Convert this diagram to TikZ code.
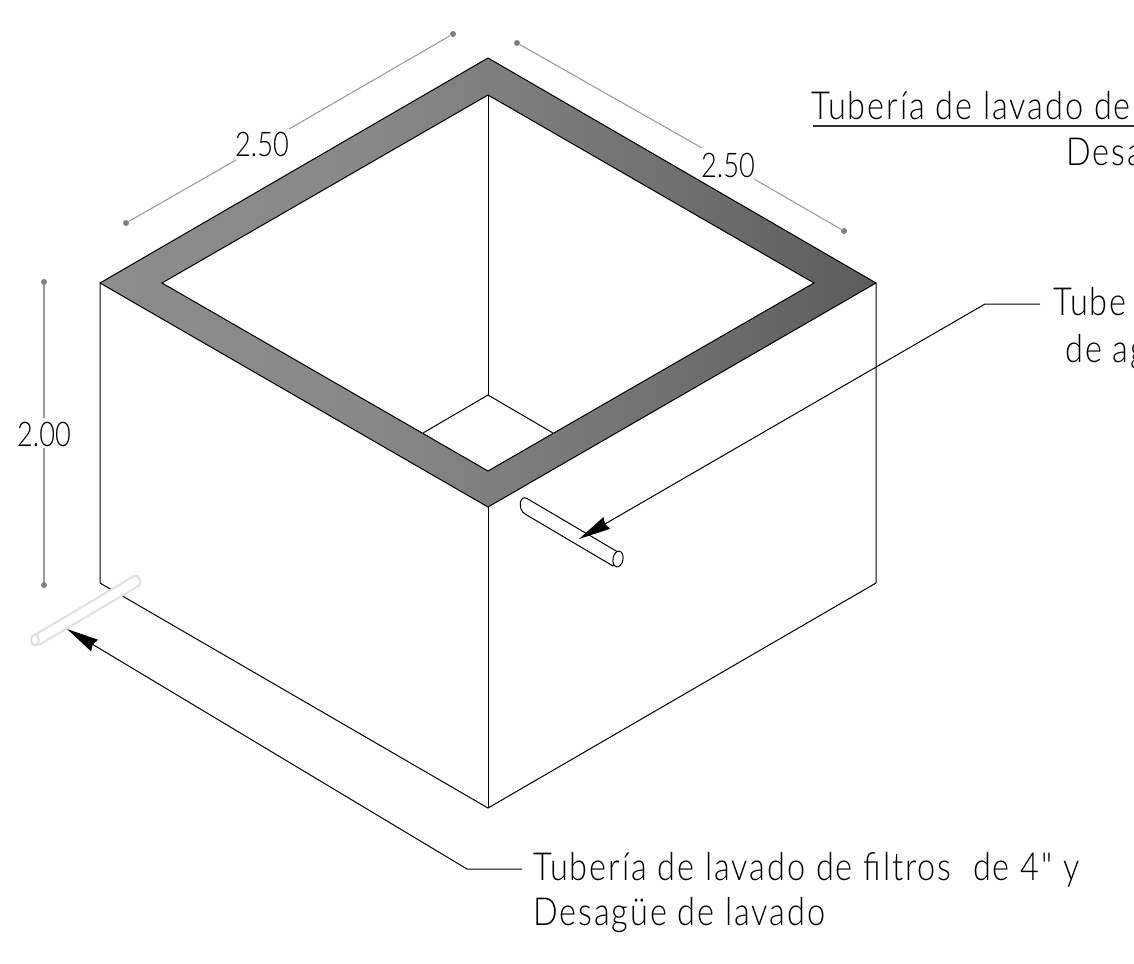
\documentclass[tikz,border=0pt]{standalone}
\usepackage{fontspec}
\setmainfont[FakeStretch=0.8]{Lato Light}
\newfontfamily\notefont[FakeStretch=0.84, LetterSpace=5]{Lato Light}
\usetikzlibrary{
    arrows.meta,
    backgrounds,
    calc,
}

\definecolor{dimgray}{HTML}{9A9A9A}
\definecolor{dotgray}{HTML}{7F7F80}
\definecolor{pipegray}{HTML}{E0E0E0}
\definecolor{ringa}{HTML}{8B8C8E}
\definecolor{ringb}{HTML}{87888A}
\definecolor{ringc}{HTML}{727375}
\definecolor{ringd}{HTML}{5C5C5E}
\pgfdeclarehorizontalshading{ringshade}{100bp}{
    color(0bp)=(ringa); color(25bp)=(ringa); color(42bp)=(ringb);
    color(60bp)=(ringc); color(75bp)=(ringd); color(100bp)=(ringd)}

\tikzset{
    edge/.style = {draw, line width=0.75pt, black},
    dimline/.style = {draw, line width=0.8pt, dimgray},
    dimdot/.style = {circle, fill=dotgray, inner sep=0pt, minimum size=4.5pt},
    note/.style = {anchor=base west, inner sep=0pt, font=\notefont\fontsize{29}{29}\selectfont},
    dimtxt/.style = {inner sep=0pt, font=\fontsize{25.5}{25.5}\selectfont},
    leader/.style = {draw, line width=0.75pt, -{Stealth[length=24pt, width=10pt, inset=1.5pt]}},
}

\begin{document}
\begin{tikzpicture}[x=0.75pt, y=-0.75pt]
    \useasboundingbox (0,0) rectangle (1134,963);
    \clip (0,0) rectangle (1134,963);
    % outer corners
    \coordinate (otop) at (488,58);
    \coordinate (oright) at (876,283);
    \coordinate (ofront) at (488,507);
    \coordinate (oleft) at (100,283);
    % inner corners
    \coordinate (itop) at (488,95);
    \coordinate (iright) at (814,283);
    \coordinate (ifront) at (488,471);
    \coordinate (ileft) at (162,283);
    % bottom
    \coordinate (bleft) at (100,583);
    \coordinate (bfront) at (488,808);
    \coordinate (bright) at (876,583);
    \coordinate (ibase) at (488,395);
    \coordinate (ibaseL) at (423,433);
    \coordinate (ibaseR) at (553,433);

    % ring
    \shade[shading=ringshade, even odd rule]
        (otop) -- (oright) -- (ofront) -- (oleft) -- cycle
        (itop) -- (iright) -- (ifront) -- (ileft) -- cycle;
    \draw[edge] (otop) -- (oright) -- (ofront) -- (oleft) -- cycle;
    \draw[edge] (itop) -- (iright) -- (ifront) -- (ileft) -- cycle;

    % box
    \draw[edge] (oleft) -- (bleft) -- (bfront) -- (bright) -- (oright);
    \draw[edge] (ofront) -- (bfront);
    \draw[edge] (itop) -- (ibase);
    \draw[edge] (ibaseL) -- (ibase) -- (ibaseR);

    % front pipe
    \coordinate (p1a) at (527,498.5);
    \coordinate (p1b) at (617,551.5);
    \coordinate (p1c) at (613,566);
    \coordinate (p1d) at (525,514);
    \draw[edge, fill=white] (p1a) -- (p1b) -- (p1c) -- (p1d)
        .. controls (517,509) and (520,494) .. (p1a);
    \draw[edge, fill=white, rotate around={-10:(618,559)}] (618,559) ellipse [x radius=5, y radius=8];

    % grey pipe
    \coordinate (p2a) at (33,636);
    \coordinate (p2b) at (134,576);
    \coordinate (p2c) at (140,585);
    \coordinate (p2d) at (39,645);
    \draw[line width=1.5pt, pipegray, fill=white] (p2a) -- (p2b)
        .. controls (138,574) and (142,581) .. (p2c)
        -- (p2d);
    \draw[line width=1.5pt, pipegray, fill=white] (35,640) ellipse [x radius=4, y radius=5.5];

    % dimensions
    \node[dimdot] (d1a) at (126,223) {};
    \node[dimdot] (d1b) at (453,34) {};
    \node[dimtxt] (d1) at (262,144) {2.50};
    \draw[dimline] (d1a) -- (236,160);
    \draw[dimline] (289,129) -- (d1b);
    \node[dimdot] (d2a) at (517,43) {};
    \node[dimdot] (d2b) at (844,231) {};
    \node[dimtxt] (d2) at (728,165) {2.50};
    \draw[dimline] (d2a) -- (702,148);
    \draw[dimline] (754,179) -- (d2b);
    \node[dimdot] (d3a) at (44,282) {};
    \node[dimdot] (d3b) at (44,585) {};
    \node[dimtxt] (d3) at (44,434.5) {2.00};
    \draw[dimline] (d3a) -- (44,418);
    \draw[dimline] (44,448) -- (d3b);

    % notes
    \node[note] (n1) at (811,120) {Tubería de lavado de};
    \draw[line width=0.8pt, black!80] (813,126) -- (1134,126);
    \node[note] (n2) at (1066,166) {Desa};
    \node[note] (n3) at (1053,315) {Tube};
    \node[note] (n4) at (1065,362) {de ag};
    \node[note] (n5) at (533,880) {Tubería de lavado de filtros\ \ de 4" y};
    \node[note] (n6) at (533,925) {Desagüe de lavado};

    % leaders
    \coordinate (tip1) at (579,539);
    \coordinate (tip2) at (67,629);
    \coordinate (kink1) at (985,304);
    \coordinate (kink2) at (467,869);
    \draw[leader] (1040,304) -- (kink1) -- (tip1);
    \draw[leader] (522,869) -- (kink2) -- (tip2);
\end{tikzpicture}
\end{document}
